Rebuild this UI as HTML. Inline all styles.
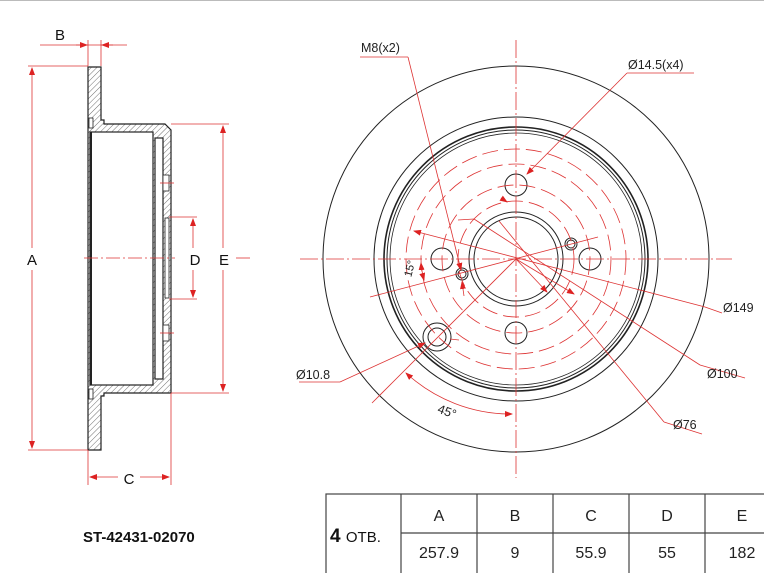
<!DOCTYPE html><html><head><style>body{margin:0;background:#fff}svg{display:block}</style></head><body>
<svg width="764" height="573" viewBox="0 0 764 573" xmlns="http://www.w3.org/2000/svg" font-family="Liberation Sans, Arial, sans-serif">
<defs>
<pattern id="h" width="4" height="4" patternUnits="userSpaceOnUse" patternTransform="rotate(45)"><line x1="0" y1="0" x2="0" y2="4" stroke="#333" stroke-width="0.7"/></pattern>
<marker id="a" markerWidth="8" markerHeight="6" refX="7" refY="3" orient="auto-start-reverse" markerUnits="userSpaceOnUse"><path d="M0,0 L8,3 L0,6z" fill="#d22"/></marker>
</defs>
<rect x="0" y="0" width="764" height="1" fill="#bbb"/>
<!-- LEFT VIEW -->
<g stroke="#222" stroke-width="1.2">
<path d="M88,67 H101 V120 H104 V124 H165 L171,130 V393 L165,393 H104 V396 H101 V450 H88 Z" fill="url(#h)"/>
<rect x="90" y="132" width="63" height="253" fill="#fff"/>
<rect x="155" y="138" width="8" height="241" fill="#fff"/>
<line x1="91" y1="132" x2="91" y2="385" stroke-width="2"/>
<line x1="153" y1="132" x2="153" y2="385" stroke-width="0.8"/>
<rect x="163" y="175" width="6" height="16" fill="#fff" stroke-width="0.8"/>
<rect x="163" y="325" width="6" height="16" fill="#fff" stroke-width="0.8"/>
<rect x="165" y="218" width="4" height="80" fill="#fff" stroke-width="0.8"/>
<rect x="89" y="118" width="4" height="10" fill="#fff" stroke-width="0.8"/>
<rect x="89" y="389" width="4" height="10" fill="#fff" stroke-width="0.8"/>
</g>
<g stroke="#d33" stroke-width="0.8" fill="none">
<line x1="28" y1="66" x2="88" y2="66"/><line x1="28" y1="450" x2="88" y2="450"/>
<line x1="32" y1="68" x2="32" y2="248" marker-start="url(#a)"/><line x1="32" y1="270" x2="32" y2="448" marker-end="url(#a)"/>
<line x1="40" y1="45" x2="127" y2="45"/>
<line x1="88" y1="40" x2="88" y2="66"/><line x1="101" y1="40" x2="101" y2="66"/>
<line x1="76" y1="45" x2="87" y2="45" marker-end="url(#a)"/><line x1="113" y1="45" x2="102" y2="45" marker-end="url(#a)"/>
<line x1="88" y1="450" x2="88" y2="485"/><line x1="171" y1="393" x2="171" y2="485"/>
<line x1="90" y1="477" x2="118" y2="477" marker-start="url(#a)"/><line x1="140" y1="477" x2="169" y2="477" marker-end="url(#a)"/>
<line x1="171" y1="124" x2="229" y2="124"/><line x1="171" y1="393" x2="229" y2="393"/>
<line x1="223" y1="126" x2="223" y2="248" marker-start="url(#a)"/><line x1="223" y1="270" x2="223" y2="391" marker-end="url(#a)"/>
<line x1="169" y1="217" x2="197" y2="217"/><line x1="169" y1="299" x2="197" y2="299"/>
<line x1="193" y1="219" x2="193" y2="248" marker-start="url(#a)"/><line x1="193" y1="270" x2="193" y2="297" marker-end="url(#a)"/>
<line x1="84" y1="258" x2="175" y2="258" stroke-dasharray="14,3,2,3"/>
<line x1="236" y1="258" x2="250" y2="258"/>
<line x1="160" y1="183" x2="174" y2="183"/><line x1="160" y1="333" x2="174" y2="333"/>
</g>
<g font-size="15" fill="#111" text-anchor="middle">
<text x="60" y="40">B</text><text x="32" y="265">A</text><text x="129" y="484">C</text><text x="195" y="265">D</text><text x="224" y="265">E</text>
</g>
<!-- RIGHT VIEW -->
<g fill="none" stroke="#222" stroke-width="1">
<circle cx="516" cy="259" r="193"/>
<circle cx="516" cy="259" r="142"/>
<circle cx="516" cy="259" r="132" stroke-width="1.6"/>
<circle cx="516" cy="259" r="129" stroke-width="1"/>
<circle cx="516" cy="259" r="126" stroke-width="0.8"/>
<circle cx="516" cy="259" r="47"/>
<circle cx="516" cy="259" r="42"/>
<circle cx="516" cy="185" r="11"/><circle cx="516" cy="333" r="11"/>
<circle cx="442" cy="259" r="11"/><circle cx="590" cy="259" r="11"/>
<circle cx="462" cy="274" r="6"/><circle cx="462" cy="274" r="4"/>
<circle cx="571" cy="244" r="6"/><circle cx="571" cy="244" r="4"/>
<circle cx="437" cy="337" r="14"/><circle cx="437" cy="337" r="9"/>
</g>
<g fill="none" stroke="#d33" stroke-width="0.8">
<circle cx="516" cy="259" r="110" stroke-dasharray="16,6"/>
<circle cx="516" cy="259" r="95" stroke-dasharray="16,6"/>
<circle cx="516" cy="259" r="74" stroke-dasharray="16,6"/>
<circle cx="516" cy="259" r="58" stroke-dasharray="16,6"/>
<line x1="300" y1="259" x2="732" y2="259" stroke-dasharray="18,3,2,3"/>
<line x1="516" y1="40" x2="516" y2="478" stroke-dasharray="18,3,2,3"/>
<line x1="370" y1="297" x2="598" y2="237"/>
<line x1="372" y1="403" x2="516" y2="259"/>
<line x1="414" y1="231" x2="705" y2="307" marker-start="url(#a)"/><line x1="705" y1="307" x2="722" y2="313"/>
<line x1="474" y1="219" x2="700" y2="365"/><line x1="700" y1="365" x2="745" y2="378"/>
<line x1="499" y1="221" x2="664" y2="422"/><line x1="664" y1="422" x2="702" y2="434"/>
<line x1="516" y1="259" x2="574" y2="294" marker-end="url(#a)"/>
<line x1="516" y1="259" x2="547" y2="292" marker-end="url(#a)"/>
<line x1="458" y1="220" x2="474" y2="219" />
<line x1="360" y1="57" x2="408" y2="57"/><line x1="408" y1="57" x2="461" y2="270" marker-end="url(#a)"/>
<line x1="627" y1="73" x2="694" y2="73"/><line x1="627" y1="73" x2="527" y2="174" marker-end="url(#a)"/>
<line x1="299" y1="382" x2="340" y2="382"/><line x1="340" y1="382" x2="425" y2="343" marker-end="url(#a)"/>
<path d="M406,373 A155,155 0 0 0 512,414" marker-start="url(#a)" marker-end="url(#a)"/>
<path d="M421,263 A95,95 0 0 0 424,280" marker-start="url(#a)" marker-end="url(#a)"/>
<line x1="501" y1="198" x2="507" y2="202" marker-end="url(#a)"/>
<line x1="464" y1="296" x2="462" y2="282" marker-end="url(#a)"/>
<line x1="459" y1="340" x2="450" y2="339"/>
</g>
<g font-size="12.5" fill="#222">
<text x="361" y="52">M8(x2)</text>
<text x="628" y="69">Ø14.5(x4)</text>
<text x="723" y="312">Ø149</text>
<text x="707" y="378">Ø100</text>
<text x="673" y="429">Ø76</text>
<text x="296" y="379">Ø10.8</text>
<text x="438" y="415" transform="rotate(20 445 410)">45°</text>
<text x="403" y="273" transform="rotate(-75 410 270)" font-size="11">15°</text>
</g>
<!-- TABLE -->
<g stroke="#444" stroke-width="1.2" fill="none">
<rect x="326" y="494" width="440" height="82"/>
<line x1="401" y1="494" x2="401" y2="573"/>
<line x1="477" y1="494" x2="477" y2="573"/>
<line x1="553" y1="494" x2="553" y2="573"/>
<line x1="629" y1="494" x2="629" y2="573"/>
<line x1="705" y1="494" x2="705" y2="573"/>
<line x1="401" y1="533" x2="764" y2="533"/>
</g>
<g font-size="16" fill="#222" text-anchor="middle">
<text x="439" y="521">A</text><text x="515" y="521">B</text><text x="591" y="521">C</text><text x="667" y="521">D</text><text x="742" y="521">E</text>
<text x="439" y="558">257.9</text><text x="515" y="558">9</text><text x="591" y="558">55.9</text><text x="667" y="558">55</text><text x="742" y="558">182</text>
</g>
<text x="330" y="542" font-size="19" font-weight="bold" fill="#111">4 <tspan font-size="15" font-weight="normal">ОТВ.</tspan></text>
<text x="83" y="542" font-size="15" font-weight="bold" fill="#111">ST-42431-02070</text>
</svg>
</body></html>
